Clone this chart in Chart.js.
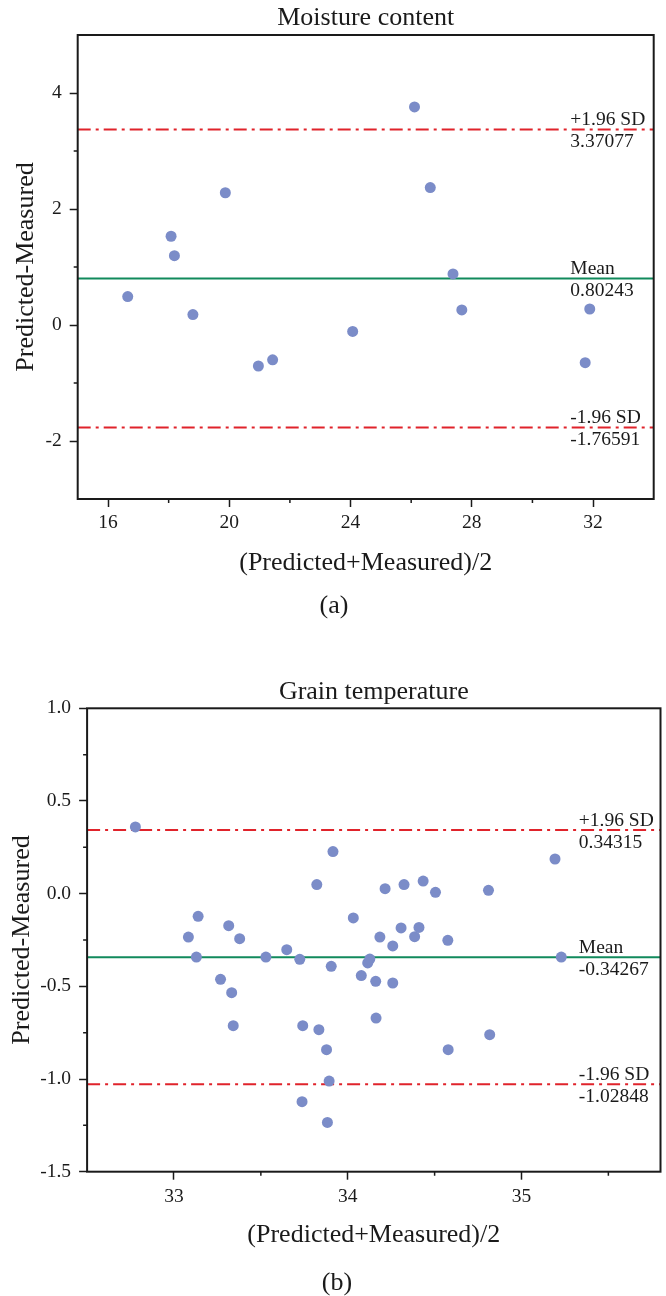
<!DOCTYPE html>
<html>
<head>
<meta charset="utf-8">
<script src="https://cdn.jsdelivr.net/npm/chart.js@4.4.1/dist/chart.umd.min.js"></script>
<style>
  html, body { margin: 0; padding: 0; background: #fff; }
  #page { position: relative; width: 666px; height: 1296px; overflow: hidden; }
  canvas { position: absolute; left: 0; }
  .cap { position: absolute; width: 80px; text-align: center; line-height: 30px;
         font: 26px "Liberation Serif", "DejaVu Serif", serif; color: #1a1a1a; }
</style>
</head>
<body>
<div id="page">
  <canvas id="chartA" width="666" height="640" style="top:0"></canvas>
  <div class="cap" style="left:294px; top:590px">(a)</div>
  <canvas id="chartB" width="666" height="636" style="top:660px"></canvas>
  <div class="cap" style="left:297px; top:1267px">(b)</div>
</div>
<script>
"use strict";

// (a) Moisture content
var moistX = [16.65, 18.08, 18.19, 18.80, 19.87, 20.96, 21.43, 24.07, 26.11, 26.63, 27.38, 27.67, 31.74, 31.89];
var moistY = [0.49, 1.53, 1.195, 0.18, 2.28, -0.707, -0.60, -0.11, 3.76, 2.37, 0.88, 0.26, -0.65, 0.276];
var moistMean = 0.80243, moistUpper = 3.37077, moistLower = -1.76591;
var xTicksA = [16, 20, 24, 28, 32];
var xMinorA = [18, 22, 26, 30];
var yTicksA = [-2, 0, 2, 4];
var yMinorA = [-1, 1, 3];

// (b) Grain temperature
var grainX = [32.778, 33.915, 35.193, 33.822, 34.215, 34.324, 34.434, 34.505, 34.81, 33.139,
              33.083, 33.315, 33.378, 33.129, 33.529, 33.649, 33.724, 34.032, 33.905, 34.115,
              34.127, 34.185, 34.307, 34.259, 34.385, 34.41, 34.576, 34.078, 34.161, 34.259,
              33.268, 33.332, 35.229, 33.341, 33.741, 33.834, 33.878, 34.163, 34.578, 34.817,
              33.893, 33.737, 33.883];
var grainY = [0.36, 0.227, 0.187, 0.049, 0.027, 0.049, 0.068, 0.007, 0.018, -0.122,
              -0.234, -0.173, -0.243, -0.342, -0.342, -0.302, -0.354, -0.131, -0.392, -0.374,
              -0.353, -0.234, -0.185, -0.282, -0.232, -0.182, -0.252, -0.442, -0.473, -0.482,
              -0.462, -0.534, -0.342, -0.712, -0.712, -0.734, -0.842, -0.671, -0.842, -0.761,
              -1.011, -1.122, -1.234];
var grainMean = -0.34267, grainUpper = 0.34315, grainLower = -1.02848;
var xTicksB = [33, 34, 35];
var xMinorB = [33.5, 34.5, 35.5];
var yTicksB = [-1.5, -1.0, -0.5, 0, 0.5, 1.0];
var yMinorB = [-1.25, -0.75, -0.25, 0.25, 0.75];

var SERIF = '"Liberation Serif", "DejaVu Serif", serif';
var INK = '#1a1a1a';
var DOT = '#7b8cc8';
var RED = '#e0232b';
var GREEN = '#118a5c';
var DASHDOT = [13, 5, 3, 5];

// frame, minor ticks and the limit labels
var framePlugin = {
  id: 'frame',
  afterDraw: function(chart, args, opts) {
    var ctx = chart.ctx, a = chart.chartArea, sx = chart.scales.x, sy = chart.scales.y;
    ctx.save();
    ctx.strokeStyle = INK;
    ctx.lineWidth = 2;
    ctx.strokeRect(a.left, a.top, a.right - a.left, a.bottom - a.top);

    ctx.lineWidth = 1.5;
    ctx.beginPath();
    opts.xMinor.forEach(function(v) {
      var px = sx.getPixelForValue(v);
      ctx.moveTo(px, a.bottom); ctx.lineTo(px, a.bottom + 4);
    });
    opts.yMinor.forEach(function(v) {
      var py = sy.getPixelForValue(v);
      ctx.moveTo(a.left, py); ctx.lineTo(a.left - 4, py);
    });
    ctx.stroke();

    ctx.fillStyle = INK;
    ctx.font = '19.5px ' + SERIF;
    ctx.textAlign = 'left';
    ctx.textBaseline = 'alphabetic';
    var lx = sx.getPixelForValue(opts.labelX);
    opts.refs.forEach(function(r) {
      var py = sy.getPixelForValue(r.value);
      ctx.fillText(r.name, lx, py - 4.5);
      ctx.fillText(r.text, lx, py + 18);
    });
    ctx.restore();
  }
};

function refLine(range, v, color, dash) {
  return {
    data: [{ x: range[0], y: v }, { x: range[1], y: v }],
    showLine: true, borderColor: color, borderWidth: 2, borderDash: dash,
    pointRadius: 0, order: 1
  };
}

function baChart(id, p) {
  return new Chart(document.getElementById(id), {
    type: 'scatter',
    data: {
      datasets: [
        {
          data: p.xs.map(function(x, i) { return { x: x, y: p.ys[i] }; }),
          backgroundColor: DOT, borderWidth: 0, pointRadius: 5.5, order: 0
        },
        refLine(p.xRange, p.upper, RED, DASHDOT),
        refLine(p.xRange, p.mean, GREEN, []),
        refLine(p.xRange, p.lower, RED, DASHDOT)
      ]
    },
    options: {
      responsive: false, animation: false, devicePixelRatio: 1,
      layout: { padding: { left: 0, right: p.padRight, top: 0, bottom: p.padBottom } },
      plugins: {
        legend: { display: false },
        tooltip: { enabled: false },
        title: {
          display: true, text: p.title, color: INK, fullSize: false,
          font: { family: SERIF, size: 26, weight: 'normal', lineHeight: 1.2 },
          padding: { top: p.titleTop, bottom: p.titleBottom }
        },
        frame: {
          xMinor: p.xMinor, yMinor: p.yMinor, labelX: p.labelX,
          refs: [
            { value: p.upper, name: '+1.96 SD', text: String(p.upper) },
            { value: p.mean, name: 'Mean', text: String(p.mean) },
            { value: p.lower, name: '-1.96 SD', text: String(p.lower) }
          ]
        }
      },
      scales: {
        x: {
          type: 'linear', min: p.xRange[0], max: p.xRange[1],
          afterFit: function(s) { s.height = 80; },
          afterBuildTicks: function(s) { s.ticks = p.xTicks.map(function(v) { return { value: v }; }); },
          grid: { drawOnChartArea: false, drawTicks: true, tickLength: 8, tickWidth: 1.5, tickColor: INK },
          border: { display: false },
          ticks: { color: INK, font: { family: SERIF, size: 19.5 }, padding: p.xTickPad, maxRotation: 0, autoSkip: false },
          title: {
            display: true, text: '(Predicted+Measured)/2', color: INK,
            font: { family: SERIF, size: 26, lineHeight: 1.2 },
            padding: { top: 0, bottom: p.xTitleBottom }
          }
        },
        y: {
          type: 'linear', min: p.yRange[0], max: p.yRange[1],
          afterFit: function(s) { s.width = p.yWidth; },
          afterBuildTicks: function(s) { s.ticks = p.yTicks.map(function(v) { return { value: v }; }); },
          grid: { drawOnChartArea: false, drawTicks: true, tickLength: 8, tickWidth: 1.5, tickColor: INK },
          border: { display: false },
          ticks: {
            color: INK, font: { family: SERIF, size: 19.5 }, padding: 8, autoSkip: false,
            callback: function(v) { return p.yFmt(v); }
          },
          title: {
            display: true, text: 'Predicted-Measured', color: INK,
            font: { family: SERIF, size: 26, lineHeight: 1.2 },
            padding: { top: p.yTitlePad, bottom: 0 }
          }
        }
      }
    },
    plugins: [framePlugin]
  });
}

baChart('chartA', {
  title: 'Moisture content',
  xs: moistX, ys: moistY, mean: moistMean, upper: moistUpper, lower: moistLower,
  xRange: [15, 34], yRange: [-3, 5],
  xTicks: xTicksA, xMinor: xMinorA, yTicks: yTicksA, yMinor: yMinorA,
  yFmt: function(v) { return String(v); },
  labelX: 31.25,
  padRight: 12.3, padBottom: 61, yWidth: 77.7,
  titleTop: 2.7, titleBottom: 1.1,
  xTickPad: 4.3, xTitleBottom: 0.4, yTitlePad: 10.4
});

baChart('chartB', {
  title: 'Grain temperature',
  xs: grainX, ys: grainY, mean: grainMean, upper: grainUpper, lower: grainLower,
  xRange: [32.5, 35.8], yRange: [-1.5, 1.0],
  xTicks: xTicksB, xMinor: xMinorB, yTicks: yTicksB, yMinor: yMinorB,
  yFmt: function(v) { return v.toFixed(1); },
  labelX: 35.33,
  padRight: 4.7, padBottom: 44.3, yWidth: 87.1,
  titleTop: 16.1, titleBottom: 1.0,
  xTickPad: 5.3, xTitleBottom: 1.1, yTitlePad: 6.4
});
</script>
</body>
</html>
